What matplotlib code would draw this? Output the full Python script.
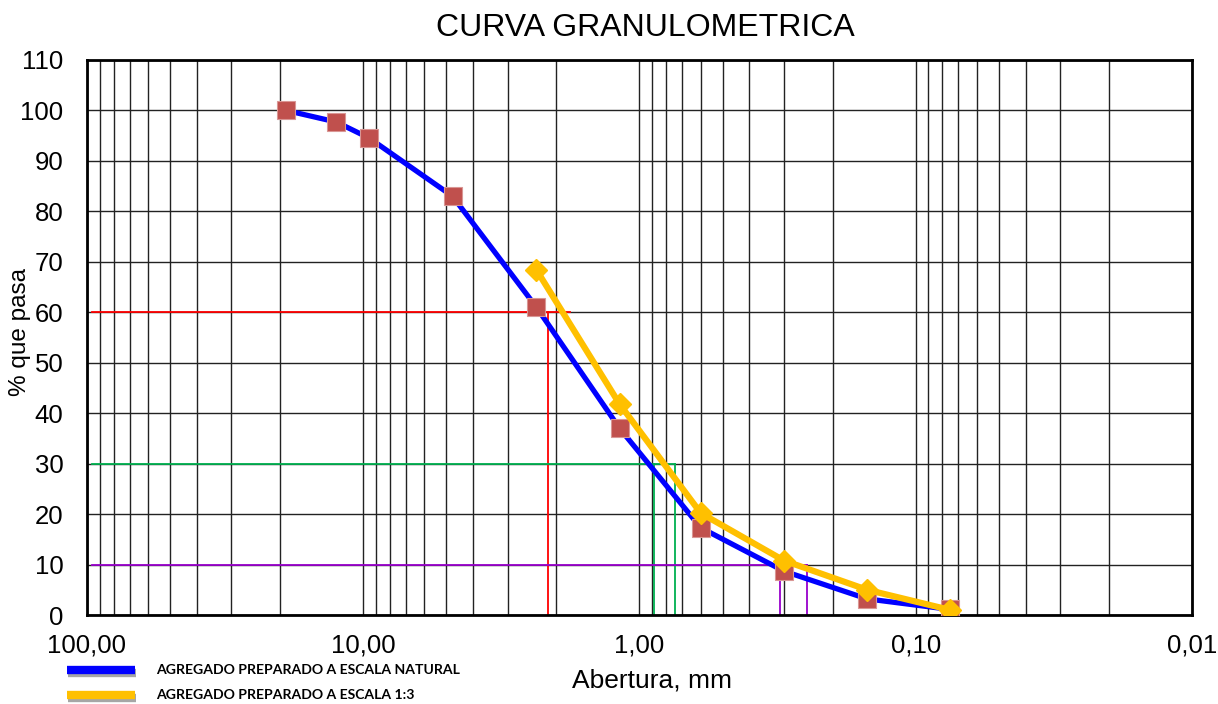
import matplotlib
matplotlib.use("Agg")
import matplotlib.pyplot as plt
from matplotlib.lines import Line2D
from matplotlib.ticker import LogLocator, NullFormatter
import matplotlib.patheffects as pe

plt.rcParams['font.family'] = ['Liberation Sans', 'DejaVu Sans']

# sieve openings (mm) and % passing
sieves = [19.0, 12.5, 9.5, 4.75, 2.36, 1.18, 0.6, 0.3, 0.15, 0.075]
natural = [100, 97.7, 94.5, 83.0, 61.0, 37.0, 17.3, 8.7, 3.2, 1.1]

sieves_13 = [2.36, 1.18, 0.6, 0.3, 0.15, 0.075]
escala_13 = [68.4, 41.8, 20.2, 10.8, 5.0, 1.0]

# D60 / D30 / D10 guide lines: (percent, [start, first drop, end])
d60_pct, d60_x = 60, [96, 2.15, 1.78]
d30_pct, d30_x = 30, [96, 0.883, 0.746]
d10_pct, d10_x = 10, [96, 0.311, 0.248]

x_ticks = [100, 10, 1, 0.1, 0.01]
x_labels = ['100,00', '10,00', '1,00', '0,10', '0,01']

fig = plt.figure(figsize=(12.18, 7.04), dpi=100)
ax = fig.add_axes([0.0714, 0.1264, 0.9072, 0.7884])

ax.set_xscale('log')
ax.set_xlim(100, 0.01)
ax.set_ylim(0, 110)

ax.set_xticks(x_ticks)
ax.set_xticklabels(x_labels)
ax.xaxis.set_minor_locator(LogLocator(base=10, subs=range(2, 10)))
ax.xaxis.set_minor_formatter(NullFormatter())
ax.set_yticks(range(0, 111, 10))
ax.tick_params(axis='both', which='both', length=0, labelsize=18.5)
ax.tick_params(axis='x', pad=13)
ax.tick_params(axis='y', pad=17)

ax.grid(True, which='both', axis='x', color='#222222', lw=1.0)
ax.grid(True, which='major', axis='y', color='#222222', lw=1.0)
ax.set_axisbelow(True)
for s in ax.spines.values():
    s.set_linewidth(2)
    s.set_color('black')

# guide lines
def guide(pct, xs, color, both=True):
    x0, xa, xb = xs
    ax.plot([x0, xb], [pct, pct], color=color, lw=1.3, zorder=2)
    drops = [xa, xb] if both else [xa]
    for xv in drops:
        ax.plot([xv, xv], [0, pct], color=color, lw=1.3, zorder=2)

guide(d60_pct, d60_x, 'red', both=False)
guide(d30_pct, d30_x, '#00B050')
guide(d10_pct, d10_x, '#9900CC')

ax.plot(sieves, natural, color='#0000FF', lw=3.8, marker='s', ms=13,
        mfc='#C0504D', mec='#D99694', mew=0.8, zorder=4)
ax.plot(sieves_13, escala_13, color='#FFC000', lw=4.5, marker='D', ms=11,
        mfc='#FFC000', mec='#FFC000', zorder=5)

fig.text(645 / 1218, 1 - 28 / 704, 'CURVA GRANULOMETRICA', fontsize=23,
         ha='center', va='center')
ax.set_ylabel('% que pasa', fontsize=17.5)
ax.yaxis.set_label_coords(-0.051, 0.51)
ax.set_xlabel('Abertura, mm', fontsize=19)
ax.xaxis.set_label_coords(0.511, -0.097)

# legend drawn at the bottom left
shadow = [pe.SimpleLineShadow(offset=(1, -2), alpha=0.35), pe.Normal()]
for yy, col, txt in [(0.0483, '#0000FF', 'AGREGADO PREPARADO A ESCALA NATURAL'),
                     (0.0128, '#FFC000', 'AGREGADO PREPARADO A ESCALA 1:3')]:
    fig.add_artist(Line2D([67 / 1218, 135 / 1218], [yy, yy], color=col,
                          lw=6, solid_capstyle='butt',
                          transform=fig.transFigure, path_effects=shadow))
    fig.text(156 / 1218, yy, txt, fontsize=10.1, fontweight='bold',
             family=['Lato', 'DejaVu Sans'], va='center')

fig.savefig('out.png', dpi=100)
